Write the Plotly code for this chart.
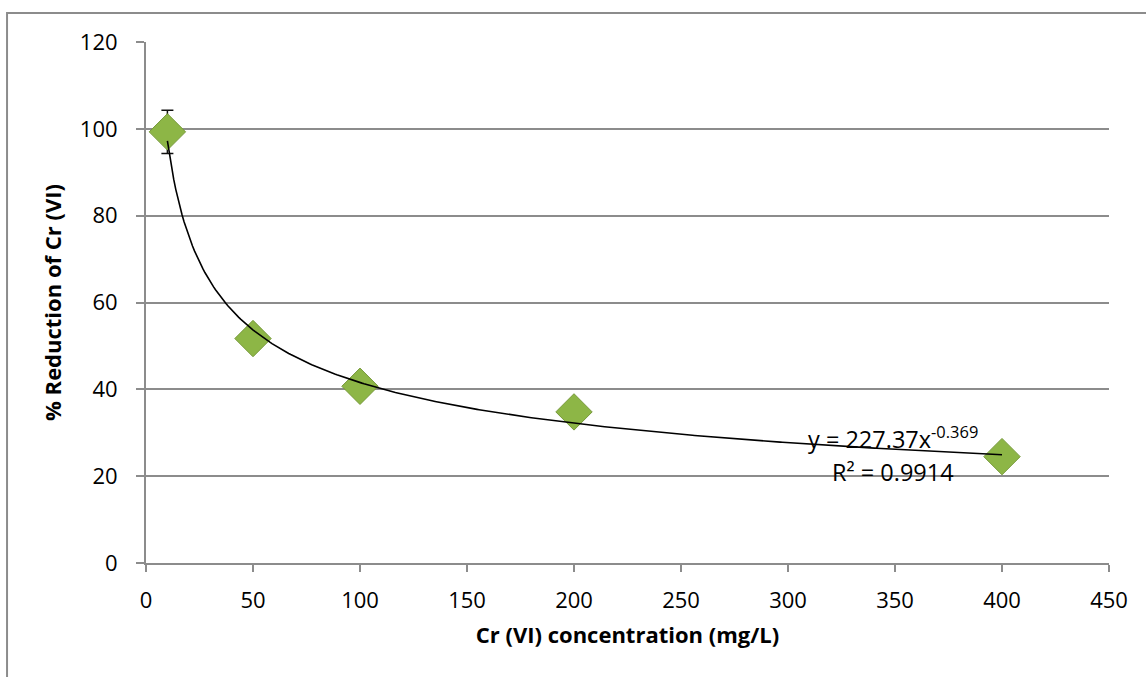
import plotly.graph_objects as go
import numpy as np

# Data
conc = [10, 50, 100, 200, 400]
reduction = [99.3, 51.7, 40.7, 34.8, 24.5]
err = [5.0, 0, 0, 0, 0]

# Power trendline coefficients (as shown on chart)
coef_a = 227.37
coef_b = -0.369
r2_text = "R² = 0.9914"

xt = np.linspace(min(conc), max(conc), 400)
yt = coef_a * xt ** coef_b

font_family = "Open Sans"
grid_col = "#8c8c8c"

fig = go.Figure()
fig.add_trace(go.Scatter(
    x=conc, y=reduction, mode="markers",
    marker=dict(symbol="diamond", size=28, color="#8db646",
                line=dict(color="#76993a", width=1)),
    error_y=dict(type="data", array=err, visible=True, color="#111111",
                 thickness=1.5, width=6),
    showlegend=False, hoverinfo="skip"))
fig.add_trace(go.Scatter(
    x=xt, y=yt, mode="lines", line=dict(color="black", width=1.6),
    showlegend=False, hoverinfo="skip"))

fig.add_annotation(x=349, y=28.8, xref="x", yref="y",
                   text=f"y = {coef_a}x<sup>{coef_b}</sup>", showarrow=False,
                   font=dict(family=font_family, size=23.5, color="black"))
fig.add_annotation(x=349, y=21.0, xref="x", yref="y",
                   text=r2_text, showarrow=False,
                   font=dict(family=font_family, size=23.5, color="black"))

# outer chart border
fig.add_shape(type="rect", xref="paper", yref="paper",
              x0=-0.1443, x1=1.2, y0=-0.4, y1=1.0557,
              line=dict(color="#8c8c8c", width=2), layer="below")

fig.update_layout(
    width=1146, height=677,
    margin=dict(l=146, r=37, t=42, b=114),
    paper_bgcolor="white", plot_bgcolor="white",
    font=dict(family=font_family, size=22, color="black"),
    xaxis=dict(range=[0, 450], dtick=50, tick0=0, showgrid=False,
               showline=True, linecolor=grid_col, linewidth=2,
               ticks="outside", ticklen=7, tickcolor=grid_col, tickwidth=1.5,
               ticklabelstandoff=10, zeroline=False,
               title=dict(text="<b>Cr (VI) concentration (mg/L)</b>",
                          font=dict(size=22), standoff=14)),
    yaxis=dict(range=[0, 120], dtick=20, tick0=0, showgrid=True,
               gridcolor=grid_col, gridwidth=1.5,
               showline=True, linecolor=grid_col, linewidth=2,
               ticks="outside", ticklen=8, tickcolor=grid_col, tickwidth=1.5,
               ticklabelstandoff=14, zeroline=False,
               title=dict(text="<b>% Reduction of Cr (VI)</b>",
                          font=dict(size=22), standoff=12)),
)

fig.write_html("out.html")
